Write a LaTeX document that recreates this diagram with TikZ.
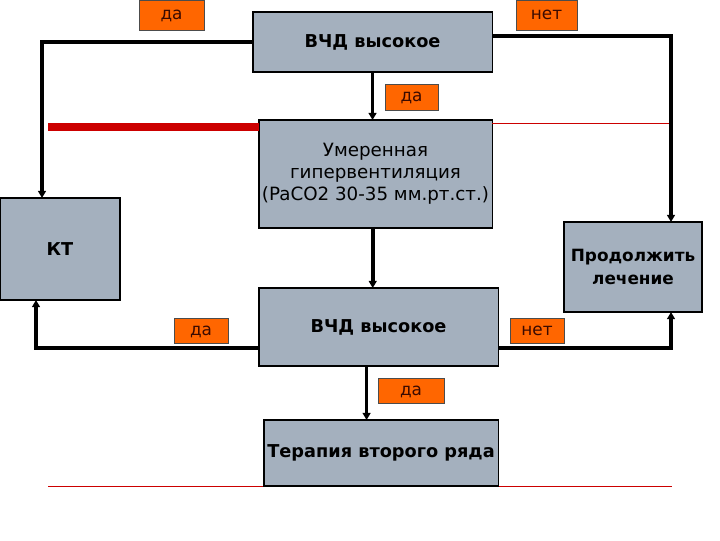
\documentclass[tikz,border=0pt]{standalone}
\usepackage{fontspec}
\setmainfont{DejaVu Sans}
\usepackage{tikz}
\usetikzlibrary{arrows.meta, positioning, calc, backgrounds}
\definecolor{boxgray}{HTML}{A4B0BE}
\definecolor{tagorange}{HTML}{FF6600}
\definecolor{tagtext}{HTML}{3A0A00}
\definecolor{rule}{HTML}{CC0000}

\begin{document}
\begin{tikzpicture}[
  x=0.025cm, y=-0.025cm,
  blk/.style={draw=black, fill=boxgray, line width=0.8pt, anchor=north west,
              inner sep=0pt, outer sep=0pt, align=center,
              font=\fontsize{12.6}{15}\selectfont\bfseries},
  tag/.style={draw=black!70, fill=tagorange, line width=0.6pt, anchor=north west,
              inner sep=0pt, outer sep=0pt, text=tagtext, text depth=0pt,
              font=\fontsize{12}{14}\selectfont},
  arr/.style={-{Triangle[length=5pt, width=5.5pt]}, line width=2.6pt, color=black},
  redbar/.style={color=rule, line width=5pt},
  redline/.style={color=rule, line width=0.7pt}
]
  \useasboundingbox (0,0) rectangle (720,540);

  % Boxes
  \node[blk, minimum width=5.975cm, minimum height=1.5cm] (vchdtop) at (253,12) {ВЧД высокое};
  \node[blk, minimum width=5.825cm, minimum height=2.7cm, font=\fontsize{13}{15.5}\selectfont]
    (hyper) at (259,120) {Умеренная\\гипервентиляция\\(PaCO2 30-35 мм.рт.ст.)};
  \node[blk, minimum width=3.0cm, minimum height=2.55cm] (kt) at (0,198) {КТ};
  \node[blk, minimum width=3.45cm, minimum height=2.25cm, font=\fontsize{12}{16}\selectfont\bfseries]
    (cont) at (564,222) {Продолжить\\лечение};
  \node[blk, minimum width=5.975cm, minimum height=1.95cm] (vchdlow) at (259,288) {ВЧД высокое};
  \node[blk, minimum width=5.85cm, minimum height=1.65cm] (second) at (264,420) {Терапия второго ряда};

  % Yes / no tags
  \node[tag, minimum width=1.625cm, minimum height=0.75cm] (yesa) at (139,0) {да};
  \node[tag, minimum width=1.525cm, minimum height=0.75cm] (noa) at (516,0) {нет};
  \node[tag, minimum width=1.325cm, minimum height=0.65cm] (yesb) at (385,84) {да};
  \node[tag, minimum width=1.35cm, minimum height=0.625cm] (yesc) at (174,318) {да};
  \node[tag, minimum width=1.35cm, minimum height=0.625cm] (nob) at (510,318) {нет};
  \node[tag, minimum width=1.65cm, minimum height=0.625cm] (yesd) at (378,378) {да};

  % Turning points
  \coordinate (lefttop) at (42,42);
  \coordinate (righttop) at (671,36);
  \coordinate (leftlow) at (36,348);
  \coordinate (rightlow) at (671,348);
  \coordinate (barstart) at (48,127);
  \coordinate (thinend) at (671,123);
  \coordinate (rulestart) at (48,486);
  \coordinate (ruleend) at (672,486);

  % Red rules
  \draw[redbar] (barstart) -- (barstart -| hyper.west);
  \draw[redline] (thinend -| hyper.east) -- (thinend);
  \begin{scope}[on background layer]
    \fill[white] (0,0) rectangle (720,540);
    \draw[redline] (rulestart) -- (ruleend);
  \end{scope}

  % Connectors
  \draw[arr] (vchdtop.west) -- (lefttop) -- (lefttop |- kt.north);
  \draw[arr] (vchdtop.east |- righttop) -- (righttop) -- (righttop |- cont.north);
  \draw[arr] (vchdtop.south) -- (vchdtop.south |- hyper.north);
  \draw[arr] ([xshift=-2pt]hyper.south) -- ([xshift=-2pt]hyper.south |- vchdlow.north);
  \draw[arr] (vchdlow.west |- leftlow) -- (leftlow) -- (leftlow |- kt.south);
  \draw[arr] (vchdlow.east |- rightlow) -- (rightlow) -- (rightlow |- cont.south);
  \draw[arr] ([xshift=-8.5pt]vchdlow.south) -- ([xshift=-8.5pt]vchdlow.south |- second.north);
\end{tikzpicture}
\end{document}
